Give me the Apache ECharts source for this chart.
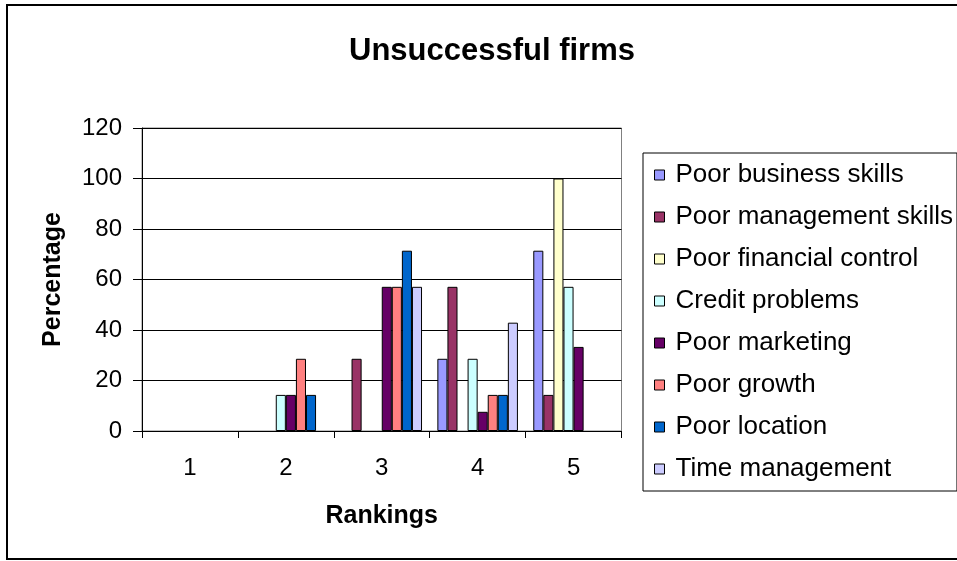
<!DOCTYPE html>
<html>
<head>
<meta charset="utf-8">
<script src="https://cdn.jsdelivr.net/npm/echarts@6/dist/echarts.min.js"></script>
<style>
html,body{margin:0;padding:0;background:#fff;}
#chart{width:957px;height:561px;}
</style>
</head>
<body>
<div id="chart"></div>
<script>
var categories = ['1', '2', '3', '4', '5'];
var seriesNames = ['Poor business skills', 'Poor management skills', 'Poor financial control', 'Credit problems', 'Poor marketing', 'Poor growth', 'Poor location', 'Time management'];
var poorBusinessSkills   = [0, 0, 0, 28.6, 71.4];
var poorManagementSkills = [0, 0, 28.6, 57.1, 14.3];
var poorFinancialControl = [0, 0, 0, 0, 100];
var creditProblems       = [0, 14.3, 0, 28.6, 57.1];
var poorMarketing        = [0, 14.3, 57.1, 7.6, 33.3];
var poorGrowth           = [0, 28.6, 57.1, 14.3, 0];
var poorLocation         = [0, 14.3, 71.4, 14.3, 0];
var timeManagement       = [0, 0, 57.1, 42.9, 0];
var yTicks = [0, 20, 40, 60, 80, 100, 120];

var seriesData = [poorBusinessSkills, poorManagementSkills, poorFinancialControl, creditProblems, poorMarketing, poorGrowth, poorLocation, timeManagement];
var colors = ['#9999FF', '#993366', '#FFFFCC', '#CCFFFF', '#660066', '#FF8080', '#0066CC', '#CCCCFF'];
var FONT = '"Liberation Sans", Arial, sans-serif';

var chart = echarts.init(document.getElementById('chart'), null, {renderer: 'canvas'});
var option = {
  animation: false,
  color: colors,
  textStyle: {fontFamily: FONT},
  title: {
    text: 'Unsuccessful firms',
    left: 344, top: 31,
    textStyle: {fontSize: 31, fontWeight: 'bold', color: '#000', fontFamily: FONT}
  },
  graphic: [{
    type: 'rect', silent: true,
    shape: {x: 7, y: 5, width: 1000, height: 554},
    style: {fill: 'none', stroke: '#000', lineWidth: 2}
  }],
  legend: {
    orient: 'vertical',
    left: 643, top: 153,
    padding: [9, 4, 9, 11],
    itemGap: 16,
    itemWidth: 10, itemHeight: 10,
    icon: 'rect',
    borderColor: '#000', borderWidth: 1,
    itemStyle: {borderColor: '#000', borderWidth: 1},
    textStyle: {fontSize: 26, lineHeight: 26, color: '#000', fontFamily: FONT, padding: [0, 0, 0, 6]},
    data: seriesNames
  },
  grid: {
    left: 142, right: 335.5, top: 128, bottom: 130,
    show: true, borderColor: '#808080', borderWidth: 1, backgroundColor: '#fff'
  },
  xAxis: {
    type: 'category',
    data: categories,
    name: 'Rankings',
    nameLocation: 'middle',
    nameGap: 73,
    nameTextStyle: {fontSize: 25, fontWeight: 'bold', color: '#000', fontFamily: FONT},
    axisLine: {lineStyle: {color: '#000', width: 1}},
    axisTick: {show: true, length: 7, lineStyle: {color: '#000'}},
    axisLabel: {fontSize: 24, color: '#000', margin: 25, fontFamily: FONT},
    splitLine: {show: false}
  },
  yAxis: {
    type: 'value',
    min: 0, max: 120, interval: 20,
    name: 'Percentage',
    nameLocation: 'middle',
    nameRotate: 90,
    nameGap: 76,
    nameTextStyle: {fontSize: 25, fontWeight: 'bold', color: '#000', fontFamily: FONT},
    axisLine: {show: true, lineStyle: {color: '#000', width: 1}},
    axisTick: {show: true, length: 9, lineStyle: {color: '#000'}},
    axisLabel: {fontSize: 24, color: '#000', margin: 20, fontFamily: FONT,
      formatter: function (v) { return yTicks.indexOf(v) >= 0 ? String(v) : ''; }},
    splitLine: {show: true, lineStyle: {color: '#000', width: 1}}
  },
  series: seriesNames.map(function (name, i) {
    return {
      name: name,
      type: 'bar',
      data: seriesData[i].map(function (v) {
        return v === 0 ? {value: v, itemStyle: {borderWidth: 0}} : v;
      }),
      barGap: '0%',
      barCategoryGap: '16%',
      itemStyle: {color: colors[i], borderColor: '#000', borderWidth: 1}
    };
  })
};
chart.setOption(option);
</script>
</body>
</html>
